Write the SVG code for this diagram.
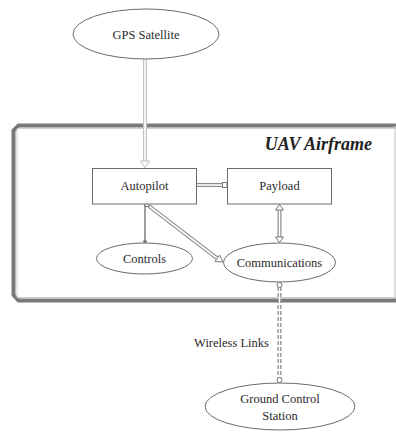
<svg xmlns="http://www.w3.org/2000/svg" width="396" height="432" viewBox="0 0 396 432">
<style>
text{font-family:'Liberation Serif','Times New Roman',Tinos,'DejaVu Serif',serif;font-size:12.5px;fill:#2a2a2a;text-anchor:middle}
.title{font-weight:bold;font-style:italic;font-size:18px;text-anchor:end;fill:#222}
.node{fill:#fff;stroke:#6a6a6a;stroke-width:1}
.dbl-o{fill:none;stroke:#8a8a8a;stroke-width:4}
.dbl-i{fill:none;stroke:#fff;stroke-width:1.6}
.lt-o{fill:none;stroke:#c4c4c4;stroke-width:4}
.single{fill:none;stroke:#777;stroke-width:1.4}
.dash-o{fill:none;stroke:#8a8a8a;stroke-width:4;stroke-dasharray:4 2}
.head{fill:#fff;stroke:#777;stroke-width:1}
</style>
<g id="frame">
<path d="M396 125.5 H18.5 L13.5 130.5 V295 L18.5 300.5 H396" fill="none" stroke="#7a7a7a" stroke-width="4"/>
<path d="M396 128.5 H17 V297.5 H396" fill="none" stroke="#cfcfcf" stroke-width="1"/>
<line x1="395" y1="126" x2="395" y2="298" stroke="#c8c8c8" stroke-width="1.2"/>
<text class="title" x="372" y="150" font-family="Liberation Serif, serif">UAV Airframe</text>
</g>
<g id="connectors">
<line class="lt-o" x1="145" y1="59" x2="145" y2="163"/>
<line class="dbl-i" x1="145" y1="59" x2="145" y2="163"/>
<path d="M140.5 161 L145 167.5 L149.5 161 Z" fill="#fff" stroke="#bbb" stroke-width="1"/>
<line class="dbl-o" x1="197" y1="185" x2="223" y2="185"/>
<line class="dbl-i" x1="197" y1="185" x2="223" y2="185"/>
<rect class="head" x="222.5" y="182.5" width="4.5" height="5"/>
<line class="dbl-o" x1="279.5" y1="210" x2="279.5" y2="237"/>
<line class="dbl-i" x1="279.5" y1="210" x2="279.5" y2="237"/>
<path class="head" d="M275.5 210 L279.5 204.5 L283.5 210 Z"/>
<path class="head" d="M275.5 237 L279.5 242.5 L283.5 237 Z"/>
<line class="single" x1="145" y1="204" x2="145" y2="241"/>
<circle cx="145" cy="241.5" r="1.8" fill="#777"/>
<line class="dbl-o" x1="149" y1="206" x2="218" y2="259"/>
<line class="dbl-i" x1="149" y1="206" x2="218" y2="259"/>
<rect class="head" x="145" y="202.5" width="4" height="4"/>
<path class="head" d="M215 261.5 L223 262 L219.5 255 Z"/>
<line class="dash-o" x1="279.5" y1="287" x2="279.5" y2="378"/>
<line x1="279.5" y1="287" x2="279.5" y2="378" stroke="#fff" stroke-width="1.4"/>
<circle class="head" cx="279.5" cy="285" r="2.5"/>
<circle class="head" cx="279.5" cy="380" r="2.5"/>
<text x="231.5" y="347" font-family="Liberation Serif, serif">Wireless Links</text>
</g>
<g id="gps">
<ellipse class="node" cx="146" cy="34" rx="73" ry="25"/>
<text x="146" y="38.5" font-family="Liberation Serif, serif">GPS Satellite</text>
</g>
<g id="autopilot">
<rect class="node" x="92.5" y="168.5" width="104" height="35.5"/>
<text x="144.5" y="190" font-family="Liberation Serif, serif">Autopilot</text>
</g>
<g id="payload">
<rect class="node" x="227.5" y="168.5" width="104" height="35.5"/>
<text x="279.5" y="190" font-family="Liberation Serif, serif">Payload</text>
</g>
<g id="controls">
<ellipse class="node" cx="144.5" cy="258.5" rx="48" ry="15.5"/>
<text x="144.5" y="263" font-family="Liberation Serif, serif">Controls</text>
</g>
<g id="communications">
<ellipse class="node" cx="279.5" cy="262.5" rx="56" ry="19.5"/>
<text x="279.5" y="267" font-family="Liberation Serif, serif">Communications</text>
</g>
<g id="gcs">
<ellipse class="node" cx="280" cy="406.5" rx="75" ry="23.5"/>
<text x="280" y="403" font-family="Liberation Serif, serif">Ground Control</text>
<text x="280" y="420" font-family="Liberation Serif, serif">Station</text>
</g>
</svg>
